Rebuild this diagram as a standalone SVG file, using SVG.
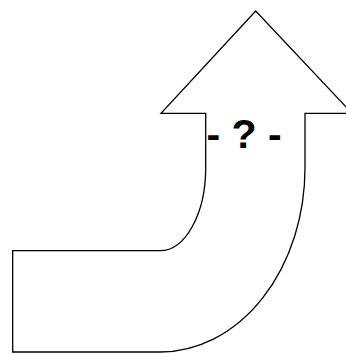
<svg xmlns="http://www.w3.org/2000/svg" width="346" height="354" viewBox="0 0 346 354">
<style>
.shape{fill:#fff;stroke:#000;stroke-width:1.3;stroke-linejoin:miter}
.lbl{font-family:"Liberation Sans",Arial,sans-serif;font-weight:bold;font-size:41px;fill:#000}
</style>
<g id="bent-arrow">
<path class="shape" d="M 12.7 250.7 H 160 A 45.7 82.7 0 0 0 205.7 168 V 113.3 H 161 L 255.7 11 L 352 113.3 H 305 V 168 A 145 184 0 0 1 160 352 H 12.7 Z"/>
<text class="lbl" x="244" y="148" text-anchor="middle">- ? -</text>
</g>
</svg>
